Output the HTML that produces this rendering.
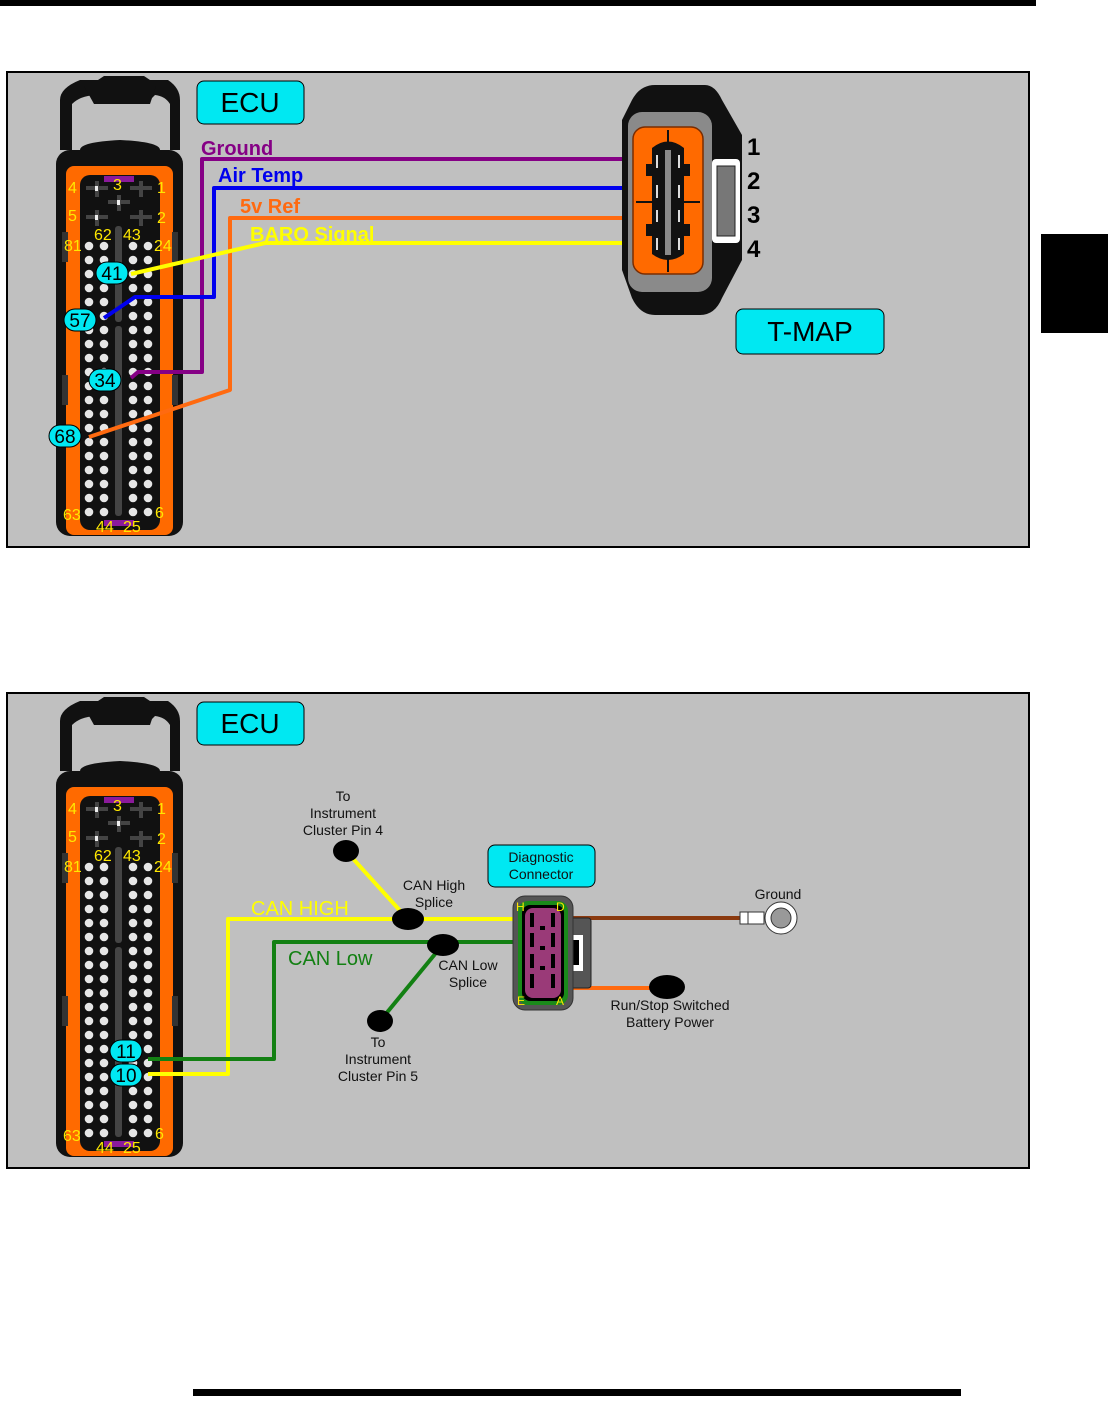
<!DOCTYPE html>
<html><head><meta charset="utf-8"><style>
html,body{margin:0;padding:0;background:#fff;}
svg{display:block;font-family:"Liberation Sans",Arial,sans-serif;}
</style></head><body>
<svg width="1108" height="1412" viewBox="0 0 1108 1412" xmlns="http://www.w3.org/2000/svg">
<defs>
<pattern id="pinsA" x="81.5" y="239" width="15" height="14" patternUnits="userSpaceOnUse">
<circle cx="7.5" cy="7" r="4.3" fill="#e6e6e6"/>
</pattern>
<pattern id="pinsB" x="125.5" y="239" width="15" height="14" patternUnits="userSpaceOnUse">
<circle cx="7.5" cy="7" r="4.3" fill="#e6e6e6"/>
</pattern>
<g id="ecu">
<path d="M60 150 L60 100 Q60 88 80 80 L98 80 L104 76 L144 76 L150 80 L168 80 Q180 88 180 100 L180 150 L170 150 L170 104 Q165 96 155 95 L150 100 L100 100 L95 95 Q80 96 72 104 L72 150 Z" fill="#111"/>
<path d="M84 86 L156 86 L150 104 L94 104 Z" fill="#111"/>
<rect x="56" y="150" width="127" height="386" rx="14" fill="#111"/>
<path d="M80 150 Q80 142 120 140 Q160 142 160 150 Z" fill="#111"/>
<rect x="66" y="166" width="107" height="369" rx="8" fill="#ff6a00"/>
<rect x="80" y="175" width="80" height="355" rx="10" fill="#111"/>
<rect x="62" y="232" width="6" height="30" fill="#333"/>
<rect x="62" y="375" width="6" height="30" fill="#333"/>
<rect x="172" y="232" width="6" height="30" fill="#333"/>
<rect x="172" y="375" width="6" height="30" fill="#333"/>
<rect x="104" y="176" width="30" height="6" fill="#8b1a9b"/>
<rect x="104" y="520" width="30" height="6" fill="#8b1a9b"/>
<g fill="#444">
<rect x="86" y="186" width="22" height="4"/><rect x="95" y="181" width="4" height="16"/>
<rect x="130" y="186" width="22" height="4"/><rect x="139" y="181" width="4" height="16"/>
<rect x="108" y="200" width="22" height="4"/><rect x="117" y="195" width="4" height="16"/>
<rect x="86" y="215" width="22" height="4"/><rect x="95" y="210" width="4" height="16"/>
<rect x="130" y="215" width="22" height="4"/><rect x="139" y="210" width="4" height="16"/>
</g>
<rect x="95" y="186" width="3" height="5" fill="#eee"/><rect x="117" y="200" width="3" height="5" fill="#eee"/><rect x="95" y="215" width="3" height="5" fill="#eee"/>
<rect x="115" y="226" width="7" height="96" rx="3" fill="#444"/>
<rect x="115" y="326" width="7" height="190" rx="3" fill="#444"/>
<rect x="81.5" y="239" width="30" height="280" fill="url(#pinsA)"/>
<rect x="125.5" y="239" width="30" height="280" fill="url(#pinsB)"/>
</g>
<g id="ecutext" font-size="16" fill="#ffe800">
<text x="68" y="193">4</text><text x="113" y="190">3</text><text x="157" y="193">1</text>
<text x="68" y="221">5</text><text x="157" y="223">2</text>
<text x="94" y="240">62</text><text x="123" y="240">43</text>
<text x="64" y="251">81</text><text x="154" y="251">24</text>
<text x="63" y="520">63</text><text x="155" y="518">6</text>
<text x="96" y="532">44</text><text x="123" y="532">25</text>
</g>
</defs>

<rect x="0" y="0" width="1036" height="6" fill="#000"/>
<rect x="1041" y="234" width="67" height="99" fill="#000"/>
<rect x="193" y="1389" width="768" height="7" fill="#000"/>

<!-- Panel 1 -->
<rect x="7" y="72" width="1022" height="475" fill="#c0c0c0" stroke="#000" stroke-width="2"/>
<use href="#ecu"/>
<use href="#ecutext"/>
<rect x="197" y="81" width="107" height="43" rx="7" fill="#00e8f2" stroke="#000" stroke-width="1"/>
<text x="250" y="112" font-size="28" text-anchor="middle" fill="#000">ECU</text>

<g fill="none" stroke-width="4" stroke-linejoin="round">
<polyline points="624,159 202,159 202,372 138,372 131,378" stroke="#850085"/>
<polyline points="624,188 214,188 214,297 135,297 104,318" stroke="#0000ee"/>
<polyline points="624,218 230,218 230,390 89,437" stroke="#ff6a10"/>
<polyline points="624,243 265,243 131,274" stroke="#ffff00"/>
</g>
<g font-size="20" font-weight="bold">
<text x="201" y="155" fill="#850085">Ground</text>
<text x="218" y="182" fill="#0000ee">Air Temp</text>
<text x="240" y="213" fill="#ff6a10">5v Ref</text>
<text x="250" y="241" fill="#ffff00">BARO Signal</text>
</g>
<g fill="#00e8f2" stroke="#000" stroke-width="1">
<rect x="96" y="262" width="32" height="22" rx="11"/>
<rect x="64" y="309" width="32" height="22" rx="11"/>
<rect x="89" y="369" width="32" height="22" rx="11"/>
<rect x="49" y="425" width="32" height="22" rx="11"/>
</g>
<g font-size="19" fill="#000" text-anchor="middle">
<text x="112" y="280">41</text><text x="80" y="327">57</text><text x="105" y="387">34</text><text x="65" y="443">68</text>
</g>

<!-- T-MAP -->
<path d="M655 85 L705 85 Q715 85 722 100 L742 135 L742 260 L722 298 Q715 315 700 315 L655 315 Q640 315 632 298 L622 270 L622 120 L632 100 Q640 85 655 85 Z" fill="#111"/>
<rect x="628" y="112" width="84" height="180" rx="14" fill="#8a8a8a"/>
<rect x="633" y="127" width="70" height="147" rx="12" fill="#ff6a00" stroke="#7a2c00" stroke-width="1.5"/>
<line x1="668" y1="130" x2="668" y2="272" stroke="#111" stroke-width="2"/>
<line x1="636" y1="202" x2="700" y2="202" stroke="#111" stroke-width="2"/>
<path d="M652 148 Q668 135 684 148 L684 164 L690 164 L690 176 L684 176 L684 224 L690 224 L690 236 L684 236 L684 254 Q668 266 652 254 L652 236 L646 236 L646 224 L652 224 L652 176 L646 176 L646 164 L652 164 Z" fill="#111"/>
<rect x="665" y="150" width="6" height="105" fill="#8a8a8a"/>
<g stroke="#ddd" stroke-width="2"><line x1="657" y1="155" x2="657" y2="168"/><line x1="679" y1="155" x2="679" y2="168"/><line x1="657" y1="185" x2="657" y2="198"/><line x1="679" y1="185" x2="679" y2="198"/><line x1="657" y1="210" x2="657" y2="222"/><line x1="679" y1="210" x2="679" y2="222"/><line x1="657" y1="238" x2="657" y2="250"/><line x1="679" y1="238" x2="679" y2="250"/></g>
<rect x="712" y="159" width="28" height="84" rx="4" fill="#fff"/>
<rect x="717" y="166" width="18" height="70" fill="#777" stroke="#222"/>
<g font-size="24" font-weight="bold" fill="#000"><text x="747" y="155">1</text><text x="747" y="189">2</text><text x="747" y="223">3</text><text x="747" y="257">4</text></g>
<rect x="736" y="309" width="148" height="45" rx="7" fill="#00e8f2" stroke="#000" stroke-width="1"/>
<text x="810" y="341" font-size="28" text-anchor="middle" fill="#000">T-MAP</text>

<!-- Panel 2 -->
<rect x="7" y="693" width="1022" height="475" fill="#c0c0c0" stroke="#000" stroke-width="2"/>
<g transform="translate(0,621)"><use href="#ecu"/><use href="#ecutext"/></g>
<rect x="197" y="702" width="107" height="43" rx="7" fill="#00e8f2" stroke="#000" stroke-width="1"/>
<text x="250" y="733" font-size="28" text-anchor="middle" fill="#000">ECU</text>

<g fill="none" stroke-width="4" stroke-linejoin="round">
<polyline points="148,1074 228,1074 228,919 516,919" stroke="#ffff00"/>
<polyline points="148,1059 274,1059 274,942 516,942" stroke="#138013"/>
<line x1="346" y1="851" x2="404" y2="915" stroke="#ffff00"/>
<line x1="380" y1="1021" x2="440" y2="948" stroke="#138013"/>
<line x1="573" y1="918" x2="742" y2="918" stroke="#8b3a0f"/>
<line x1="573" y1="988" x2="660" y2="988" stroke="#ff6a10"/>
</g>
<g fill="#000">
<ellipse cx="346" cy="851" rx="13" ry="11"/>
<ellipse cx="408" cy="919" rx="16" ry="11"/>
<ellipse cx="443" cy="945" rx="16" ry="11"/>
<ellipse cx="380" cy="1021" rx="13" ry="11"/>
<ellipse cx="667" cy="987" rx="18" ry="12"/>
</g>
<text x="251" y="915" font-size="20" fill="#ffff00">CAN HIGH</text>
<text x="288" y="965" font-size="20" fill="#138013">CAN Low</text>
<g font-size="14" fill="#111" text-anchor="middle">
<text x="343" y="801">To</text><text x="343" y="818">Instrument</text><text x="343" y="835">Cluster Pin 4</text>
<text x="434" y="890">CAN High</text><text x="434" y="907">Splice</text>
<text x="468" y="970">CAN Low</text><text x="468" y="987">Splice</text>
<text x="378" y="1047">To</text><text x="378" y="1064">Instrument</text><text x="378" y="1081">Cluster Pin 5</text>
<text x="778" y="899">Ground</text>
<text x="670" y="1010">Run/Stop Switched</text><text x="670" y="1027">Battery Power</text>
</g>
<rect x="488" y="845" width="107" height="42" rx="7" fill="#00e8f2" stroke="#000" stroke-width="1"/>
<g font-size="14" fill="#111" text-anchor="middle"><text x="541" y="862">Diagnostic</text><text x="541" y="879">Connector</text></g>

<!-- diag connector -->
<rect x="568" y="918" width="23" height="70" rx="3" fill="#555" stroke="#222"/>
<rect x="570" y="935" width="13" height="36" fill="#fff"/><rect x="572" y="940" width="7" height="25" fill="#000"/>
<rect x="513" y="896" width="60" height="114" rx="12" fill="#555" stroke="#333"/>
<rect x="518" y="901" width="50" height="104" rx="10" fill="#1a8a1a"/>
<rect x="522" y="905" width="42" height="96" rx="8" fill="#000"/>
<rect x="525" y="908" width="36" height="90" rx="8" fill="#9a3a78"/>
<g fill="#000">
<rect x="530" y="913" width="4" height="14"/><rect x="551" y="913" width="4" height="14"/>
<rect x="530" y="933" width="4" height="14"/><rect x="551" y="933" width="4" height="14"/>
<rect x="530" y="954" width="4" height="14"/><rect x="551" y="954" width="4" height="14"/>
<rect x="530" y="974" width="4" height="14"/><rect x="551" y="974" width="4" height="14"/>
<rect x="540" y="926" width="5" height="4"/><rect x="540" y="946" width="5" height="4"/><rect x="540" y="966" width="5" height="4"/>
</g>
<g font-size="12" fill="#ffe800"><text x="516" y="911">H</text><text x="556" y="911">D</text><text x="517" y="1005">E</text><text x="556" y="1005">A</text></g>
<!-- ring terminal -->
<rect x="740" y="912" width="24" height="12" fill="#fff" stroke="#333"/>
<line x1="748" y1="912" x2="748" y2="924" stroke="#333"/>
<circle cx="781" cy="918" r="16" fill="#fff" stroke="#333"/>
<circle cx="781" cy="918" r="10" fill="#999" stroke="#333"/>

<g fill="#00e8f2" stroke="#000" stroke-width="1">
<rect x="110" y="1040" width="32" height="22" rx="11"/>
<rect x="110" y="1064" width="32" height="22" rx="11"/>
</g>
<g font-size="19" fill="#000" text-anchor="middle"><text x="126" y="1058">11</text><text x="126" y="1082">10</text></g>
</svg>
</body></html>
